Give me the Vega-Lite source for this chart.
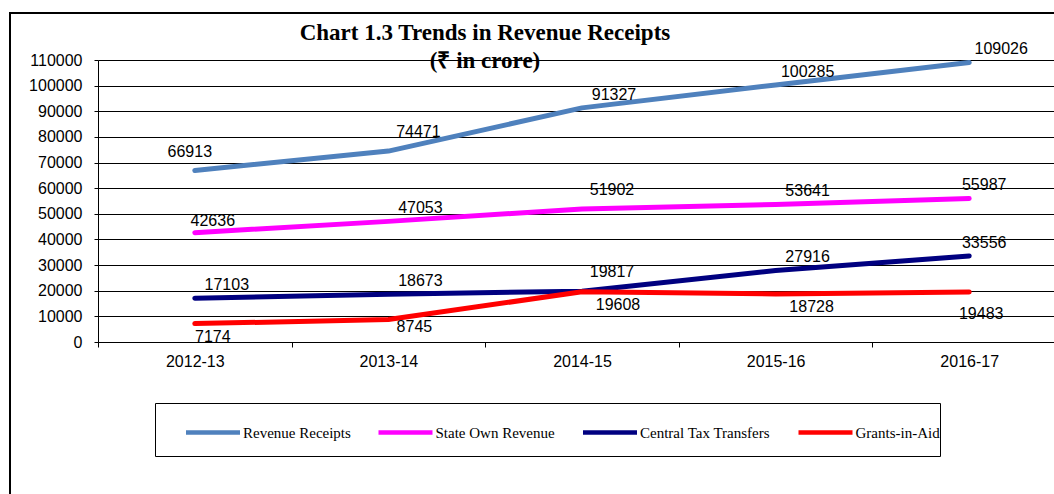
{
  "$schema": "https://vega.github.io/schema/vega-lite/v6.json",
  "autosize": {"type": "none"},
  "padding": {"left": 10, "top": 13, "right": 0, "bottom": 0},
  "width": 1050,
  "height": 490,
  "background": "white",
  "config": {
    "view": {"stroke": "black", "strokeWidth": 2},
    "font": "Liberation Sans"
  },
  "title": {
    "text": ["Chart 1.3 Trends in Revenue Receipts", "(₹ in crore)"],
    "font": "Liberation Serif",
    "fontSize": 23,
    "fontWeight": "bold",
    "color": "black",
    "anchor": "middle",
    "frame": "group",
    "dx": -50,
    "lineHeight": 28,
    "baseline": "top",
    "offset": -60
  },
  "data": {
    "values": [
      {"year": "2012-13", "series": "Revenue Receipts", "value": 66913},
      {"year": "2013-14", "series": "Revenue Receipts", "value": 74471},
      {"year": "2014-15", "series": "Revenue Receipts", "value": 91327},
      {"year": "2015-16", "series": "Revenue Receipts", "value": 100285},
      {"year": "2016-17", "series": "Revenue Receipts", "value": 109026},
      {"year": "2012-13", "series": "State Own Revenue", "value": 42636},
      {"year": "2013-14", "series": "State Own Revenue", "value": 47053},
      {"year": "2014-15", "series": "State Own Revenue", "value": 51902},
      {"year": "2015-16", "series": "State Own Revenue", "value": 53641},
      {"year": "2016-17", "series": "State Own Revenue", "value": 55987},
      {"year": "2012-13", "series": "Central Tax Transfers", "value": 17103},
      {"year": "2013-14", "series": "Central Tax Transfers", "value": 18673},
      {"year": "2014-15", "series": "Central Tax Transfers", "value": 19817},
      {"year": "2015-16", "series": "Central Tax Transfers", "value": 27916},
      {"year": "2016-17", "series": "Central Tax Transfers", "value": 33556},
      {"year": "2012-13", "series": "Grants-in-Aid", "value": 7174},
      {"year": "2013-14", "series": "Grants-in-Aid", "value": 8745},
      {"year": "2014-15", "series": "Grants-in-Aid", "value": 19608},
      {"year": "2015-16", "series": "Grants-in-Aid", "value": 18728},
      {"year": "2016-17", "series": "Grants-in-Aid", "value": 19483}
    ]
  },
  "encoding": {
    "x": {
      "field": "year",
      "type": "nominal",
      "sort": null,
      "scale": {"type": "band", "range": [88, 1056], "paddingInner": 0, "paddingOuter": 0},
      "axis": {
        "title": null,
        "offset": -161,
        "tickBand": "extent",
        "labelAngle": 0,
        "labelFont": "Liberation Sans",
        "labelFontSize": 16,
        "labelColor": "black",
        "labelPadding": 6,
        "tickSize": 5,
        "tickColor": "black",
        "domainColor": "black",
        "grid": false
      }
    },
    "y": {
      "field": "value",
      "type": "quantitative",
      "scale": {"domain": [0, 110000], "range": [329, 47], "nice": false},
      "axis": {
        "title": null,
        "offset": -88,
        "values": [0, 10000, 20000, 30000, 40000, 50000, 60000, 70000, 80000, 90000, 100000, 110000],
        "format": "d",
        "labelFont": "Liberation Sans",
        "labelFontSize": 16,
        "labelColor": "black",
        "labelPadding": 12,
        "tickSize": 4,
        "tickColor": "black",
        "domainColor": "black",
        "gridColor": "black",
        "gridWidth": 1,
        "gridOpacity": 1
      }
    }
  },
  "layer": [
    {
      "mark": {"type": "line", "strokeWidth": 5, "strokeCap": "round", "strokeJoin": "round"},
      "encoding": {
        "color": {
          "field": "series",
          "type": "nominal",
          "scale": {
            "domain": ["Revenue Receipts", "State Own Revenue", "Central Tax Transfers", "Grants-in-Aid"],
            "range": ["#4F81BD", "#FF00FF", "#000080", "#FF0000"]
          },
          "legend": {
            "orient": "none",
            "legendX": 145,
            "legendY": 390,
            "direction": "horizontal",
            "title": " ",
            "titleOrient": "bottom",
            "titleFontSize": 10,
            "titlePadding": 4,
            "symbolType": "stroke",
            "symbolSize": 2916,
            "symbolStrokeWidth": 4.5,
            "symbolOffset": 28.5,
            "labelOffset": 0.5,
            "labelFont": "Liberation Serif",
            "labelFontSize": 15,
            "labelColor": "black",
            "labelLimit": 300,
            "columnPadding": -3.5,
            "strokeColor": "black",
            "padding": 0,
            "gridAlign": "none"
          }
        }
      }
    },
    {
      "transform": [{"filter": "datum.series == 'Revenue Receipts' && datum.year == '2012-13'"}],
      "mark": {"type": "text", "font": "Liberation Sans", "fontSize": 16, "color": "black", "dx": -5, "dy": -18},
      "encoding": {"text": {"field": "value", "type": "quantitative", "format": "d"}}
    },
    {
      "transform": [{"filter": "datum.series == 'State Own Revenue' && datum.year == '2012-13'"}],
      "mark": {"type": "text", "font": "Liberation Sans", "fontSize": 16, "color": "black", "dx": 18, "dy": -12},
      "encoding": {"text": {"field": "value", "type": "quantitative", "format": "d"}}
    },
    {
      "transform": [{"filter": "datum.series == 'Grants-in-Aid' && datum.year == '2012-13'"}],
      "mark": {"type": "text", "font": "Liberation Sans", "fontSize": 16, "color": "black", "dx": 18, "dy": 13},
      "encoding": {"text": {"field": "value", "type": "quantitative", "format": "d"}}
    },
    {
      "transform": [{"filter": "datum.series == 'Grants-in-Aid' && datum.year == '2013-14'"}],
      "mark": {"type": "text", "font": "Liberation Sans", "fontSize": 16, "color": "black", "dx": 26, "dy": 7},
      "encoding": {"text": {"field": "value", "type": "quantitative", "format": "d"}}
    },
    {
      "transform": [{"filter": "datum.series == 'Grants-in-Aid' && (datum.year == '2014-15' || datum.year == '2015-16')"}],
      "mark": {"type": "text", "font": "Liberation Sans", "fontSize": 16, "color": "black", "dx": 36, "dy": 13},
      "encoding": {"text": {"field": "value", "type": "quantitative", "format": "d"}}
    },
    {
      "transform": [{"filter": "datum.series == 'Grants-in-Aid' && datum.year == '2016-17'"}],
      "mark": {"type": "text", "font": "Liberation Sans", "fontSize": 16, "color": "black", "dx": 12, "dy": 22},
      "encoding": {"text": {"field": "value", "type": "quantitative", "format": "d"}}
    },
    {
      "transform": [{"filter": "(datum.series == 'Central Tax Transfers' || datum.series == 'State Own Revenue') && datum.year == '2016-17'"}],
      "mark": {"type": "text", "font": "Liberation Sans", "fontSize": 16, "color": "black", "dx": 15, "dy": -13},
      "encoding": {"text": {"field": "value", "type": "quantitative", "format": "d"}}
    },
    {
      "transform": [{"filter": "(datum.series == 'Revenue Receipts' && datum.year == '2013-14') || (datum.series == 'State Own Revenue' && datum.year == '2014-15') || (datum.series == 'Central Tax Transfers' && datum.year == '2014-15')"}],
      "mark": {"type": "text", "font": "Liberation Sans", "fontSize": 16, "color": "black", "dx": 30, "dy": -19},
      "encoding": {"text": {"field": "value", "type": "quantitative", "format": "d"}}
    },
    {
      "transform": [{"filter": "(datum.series == 'Revenue Receipts' && datum.year != '2012-13' && datum.year != '2013-14') || (datum.series == 'State Own Revenue' && (datum.year == '2013-14' || datum.year == '2015-16')) || (datum.series == 'Central Tax Transfers' && (datum.year == '2012-13' || datum.year == '2013-14' || datum.year == '2015-16'))"}],
      "mark": {"type": "text", "font": "Liberation Sans", "fontSize": 16, "color": "black", "dx": 32, "dy": -13},
      "encoding": {"text": {"field": "value", "type": "quantitative", "format": "d"}}
    }
  ]
}
